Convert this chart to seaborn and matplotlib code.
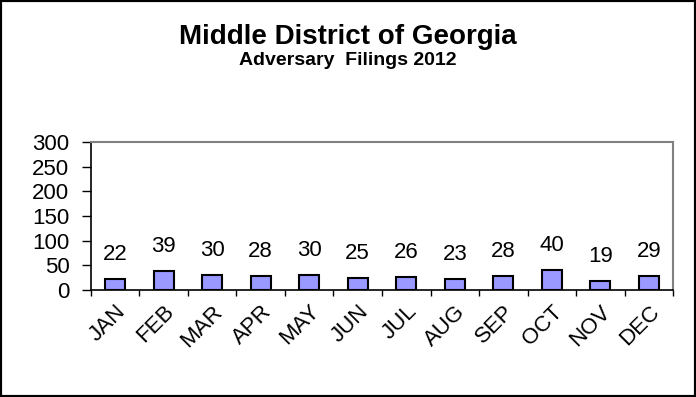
import matplotlib
matplotlib.use("Agg")
import matplotlib.pyplot as plt
import seaborn as sns
import pandas as pd

meses = ["JAN", "FEB", "MAR", "APR", "MAY", "JUN", "JUL", "AUG", "SEP", "OCT", "NOV", "DEC"]
filings = [22, 39, 30, 28, 30, 25, 26, 23, 28, 40, 19, 29]

sns.set_style("white")
plt.rcParams["font.family"] = ["Liberation Sans", "DejaVu Sans"]
plt.rcParams["text.color"] = "black"
plt.rcParams["xtick.color"] = "black"
plt.rcParams["ytick.color"] = "black"

df = pd.DataFrame({"mes": meses, "filings": filings})

fig = plt.figure(figsize=(6.96, 3.97), dpi=100)
fig.set_facecolor("white")
ax = fig.add_axes([0.1307, 0.2695, 0.8363, 0.3725])

sns.barplot(data=df, x="mes", y="filings", color="#9999FF", saturation=1,
            edgecolor="black", linewidth=1.5, width=0.42, ax=ax)

ax.bar_label(ax.containers[0], padding=10, fontsize=16)

ax.set_ylim(0, 300)
ax.set_yticks(range(0, 301, 50))
ax.set_xlim(-0.5, 11.5)
ax.set_xlabel("")
ax.set_ylabel("")

# ticks del eje x entre categorias
ax.set_xticks([i - 0.5 for i in range(13)], minor=True)
ax.tick_params(axis="x", which="major", length=0, labelsize=16, pad=8)
ax.tick_params(axis="x", which="minor", length=4.5, width=1, direction="out", color="black", bottom=True)
ax.tick_params(axis="y", length=6.5, width=1, direction="out", color="black", labelsize=16, left=True, pad=9)
plt.setp(ax.get_xticklabels(), rotation=45, ha="right", rotation_mode="anchor")

for lado in ["top", "right"]:
    ax.spines[lado].set_color("#808080")
    ax.spines[lado].set_linewidth(1.5)
for lado in ["left", "bottom"]:
    ax.spines[lado].set_color("black")
    ax.spines[lado].set_linewidth(1.2)

fig.text(0.5, 0.889, "Middle District of Georgia", ha="center", va="baseline",
         fontsize=20, fontweight="bold")
fig.text(0.5, 0.837, "Adversary  Filings 2012", ha="center", va="baseline",
         fontsize=14, fontweight="bold")

fig.add_artist(plt.Rectangle((0, 0), 1, 1, transform=fig.transFigure, fill=False,
                             edgecolor="black", linewidth=3))

fig.savefig("out.png", dpi=100, facecolor="white")
